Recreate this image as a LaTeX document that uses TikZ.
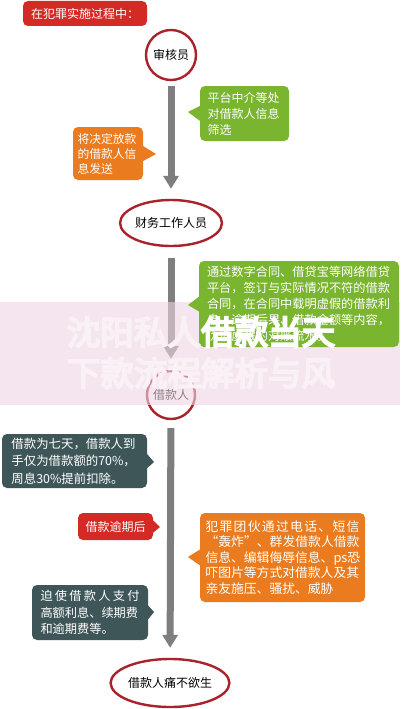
\documentclass[tikz,border=0pt]{standalone}
\usepackage{fontspec}
\newfontfamily\cjk{Noto Sans CJK SC}
\newfontfamily\cjkb[AutoFakeBold=6]{Noto Sans CJK SC}
\usetikzlibrary{arrows.meta,shapes.geometric}
\definecolor{cred}{HTML}{D42A26}
\definecolor{cring}{HTML}{A8232B}
\definecolor{cgreen}{HTML}{7AB530}
\definecolor{corange}{HTML}{EA7B1E}
\definecolor{cslate}{HTML}{3E5658}
\definecolor{cgrey}{HTML}{7E7E7E}
\definecolor{cband}{HTML}{EED5E3}
\definecolor{cfaint}{HTML}{FAF1F6}
\newcommand{\jbox}[2]{\leavevmode\hbox to #1{#2}}
\tikzset{
  callout/.style={rounded corners=5pt, inner sep=0pt, text=white, align=left,
    font=\cjk\fontsize{12}{16}\selectfont},
  ring/.style={draw=cring, line width=2.4pt, inner sep=0pt, text=black,
    font=\cjk\fontsize{12}{14}\selectfont},
  flow/.style={draw=cgrey, line width=7pt,
    -{Triangle[width=15pt,length=13pt]}},
  wm/.style={text=white, inner sep=0pt, font=\cjkb\bfseries\fontsize{33.5}{36}\selectfont}
}
\begin{document}
\begin{tikzpicture}[x=1pt,y=-1pt]
\useasboundingbox (0,0) rectangle (400,709);
\fill[white] (0,0) rectangle (400,709);

% flow nodes
\node[ring, circle, minimum size=50pt] (c1) at (171,55) {审核员};
\node[ring, ellipse, minimum width=82pt, minimum height=46pt] (c2) at (171,223) {财务工作人员};
\node[ring, circle, minimum size=48pt] (c3) at (171,395) {借款人};
\node[ring, ellipse, minimum width=90pt, minimum height=48pt] (c4) at (170,683) {借款人痛不欲生};

% connectors
\draw[flow, shorten <=5pt, shorten >=10pt] (c1) -- (c2);
\draw[flow, shorten <=11pt, shorten >=11pt] (c2) -- (c3);
\draw[flow, shorten <=8pt, shorten >=10pt] (c3) -- (c4);

% pink band
\fill[cband, fill opacity=0.6] (0,302) rectangle (400,405);

% top label
\node[callout, fill=cred, minimum width=124pt, minimum height=25pt, align=center] (top) at (85,13.5) {在犯罪实施过程中：};

% green small
\node[callout, fill=cgreen, minimum width=89pt, minimum height=55pt, text width=74pt] (g1) at (244.5,113.5)
  {平台中介等处\\对借款人信息\\筛选};
\coordinate (tg1) at (188,112);
\fill[cgreen] ([xshift=1pt,yshift=8pt]g1.west) -- (tg1) -- ([xshift=1pt,yshift=-8pt]g1.west) -- cycle;

% orange small
\node[callout, fill=corange, minimum width=70pt, minimum height=53pt, text width=61pt,
  font=\cjk\fontsize{11.8}{15}\selectfont] (o1) at (108,153.5)
  {将决定放款\\的借款人信\\息发送};
\coordinate (to1) at (156,154);
\fill[corange] ([xshift=-1pt,yshift=8pt]o1.east) -- (to1) -- ([xshift=-1pt,yshift=-8pt]o1.east) -- cycle;

% green big
\node[callout, fill=cgreen, minimum width=200pt, minimum height=86pt, text width=184pt,
  font=\cjk\fontsize{12.2}{16}\selectfont] (g2) at (299,304)
  {通过数字合同、借贷宝等网络借贷\\平台，签订与实际情况不符的借款\\合同，在合同中载明虚假的借款利\\息、逾期后果、借款金额等内容，\\伪造虚假的对账流水。};
\coordinate (tg2) at (188,305);
\fill[cgreen] ([xshift=1pt,yshift=8pt]g2.west) -- (tg2) -- ([xshift=1pt,yshift=-8pt]g2.west) -- cycle;

% slate 1
\node[callout, fill=cslate, minimum width=145pt, minimum height=54pt, text width=126pt,
  font=\cjk\fontsize{12.4}{17.5}\selectfont] (s1) at (74.5,461)
  {借款为七天，借款人到\\手仅为借款额的70\%，\\周息30\%提前扣除。};
\coordinate (ts1) at (154,462);
\fill[cslate] ([xshift=-1pt,yshift=8pt]s1.east) -- (ts1) -- ([xshift=-1pt,yshift=-8pt]s1.east) -- cycle;

% red small
\node[callout, fill=cred, minimum width=75pt, minimum height=27pt, align=center] (r1) at (115.5,526.5) {借款逾期后};
\coordinate (tr1) at (160,527);
\fill[cred] ([xshift=-1pt,yshift=7pt]r1.east) -- (tr1) -- ([xshift=-1pt,yshift=-7pt]r1.east) -- cycle;

% orange big
\node[callout, fill=corange, minimum width=165pt, minimum height=89pt, text width=154pt,
  font=\cjk\fontsize{12.8}{15.5}\selectfont] (o2) at (282.5,557.5)
  {\jbox{154pt}{犯\hfil 罪\hfil 团\hfil 伙\hfil 通\hfil 过\hfil 电\hfil 话\hfil 、\hfil 短\hfil 信}\\
   \jbox{154pt}{\hfil “\hfil 轰\hfil 炸\hfil ”\hfil 、\hfil 群\hfil 发\hfil 借\hfil 款\hfil 人\hfil 借\hfil 款}\\
   \jbox{154pt}{信\hfil 息\hfil 、\hfil 编\hfil 辑\hfil 侮\hfil 辱\hfil 信\hfil 息\hfil 、\hfil ps\hfil 恐}\\
   吓图片等方式对借款人及其\\亲友施压、骚扰、威胁};
\coordinate (to2) at (188,557);
\fill[corange] ([xshift=1pt,yshift=8.5pt]o2.west) -- (to2) -- ([xshift=1pt,yshift=-8.5pt]o2.west) -- cycle;

% slate 2
\node[callout, fill=cslate, minimum width=116pt, minimum height=55pt, text width=99pt,
  font=\cjk\fontsize{12.2}{16.5}\selectfont] (s2) at (90,612.5)
  {\jbox{99pt}{迫\hfil 使\hfil 借\hfil 款\hfil 人\hfil 支\hfil 付}\\高额利息、续期费\\和逾期费等。};
\coordinate (ts2) at (154,612);
\fill[cslate] ([xshift=-1pt,yshift=8pt]s2.east) -- (ts2) -- ([xshift=-1pt,yshift=-8pt]s2.east) -- cycle;

% watermark
\node[wm, text=cfaint, anchor=east] (w1) at (201,332) {沈阳私人};
\node[wm, anchor=west] (w2) at (201,332) {借款当天};
\node[wm, text=cfaint] (w3) at (201,373) {下款流程解析与风};
\end{tikzpicture}
\end{document}
